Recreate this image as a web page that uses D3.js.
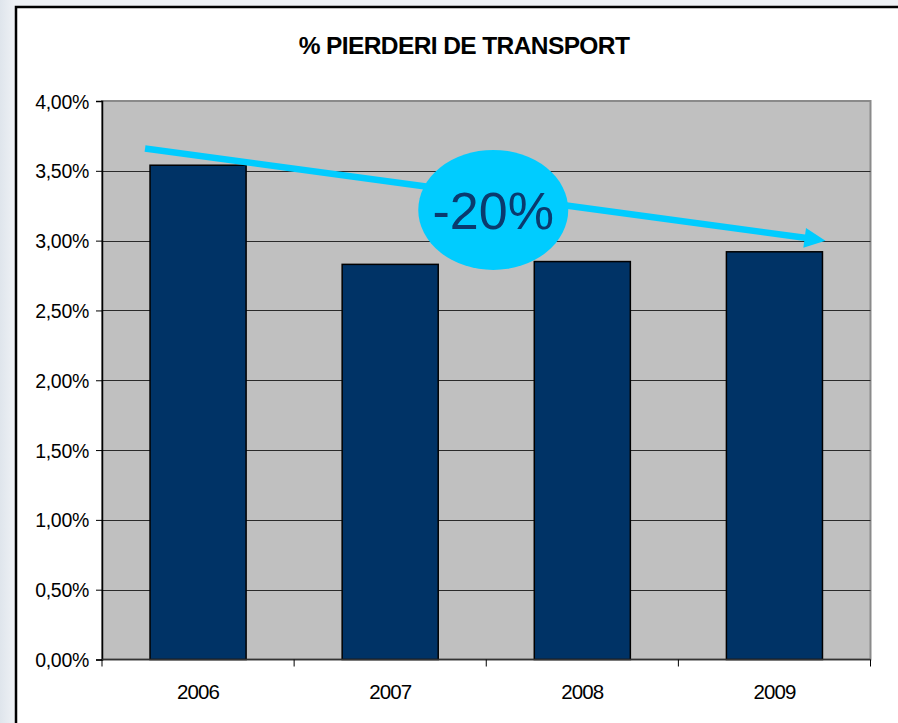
<!DOCTYPE html>
<html>
<head>
<meta charset="utf-8">
<script src="https://cdn.jsdelivr.net/npm/d3@7"></script>
<style>
  html, body { margin: 0; padding: 0; }
  body { width: 898px; height: 723px; overflow: hidden;
         background: linear-gradient(90deg, #dfe5ec 0px, #eef1f5 14px, #eef1f5 100%); }
  svg { display: block; }
</style>
</head>
<body>
<svg id="chart" width="898" height="723"></svg>
<script>
const title = "% PIERDERI DE TRANSPORT";
const years = ["2006", "2007", "2008", "2009"];
const losses = [0.0354, 0.0283, 0.0285, 0.0292];
const yTicks = [0, 0.005, 0.01, 0.015, 0.02, 0.025, 0.03, 0.035, 0.04];
const trendStart = 0.0366;   // arrow start value
const trendEnd = 0.0300;     // arrow end value
const changeLabel = "-20%";

const svg = d3.select("#chart");
const W = 898, H = 723;
const plot = { left: 102, right: 870.5, top: 101, bottom: 659.5 };

// chart box
svg.append("rect").attr("x", 16).attr("y", 7).attr("width", W + 20).attr("height", H + 20)
  .attr("fill", "#ffffff").attr("stroke", "#000").attr("stroke-width", 2.5);

const x = d3.scaleBand().domain(years).range([plot.left, plot.right])
  .paddingInner(0.5).paddingOuter(0.25);
const y = d3.scaleLinear().domain([0, 0.04]).range([plot.bottom, plot.top]);

// plot background
svg.append("rect").attr("x", plot.left).attr("y", plot.top)
  .attr("width", plot.right - plot.left).attr("height", plot.bottom - plot.top)
  .attr("fill", "#c0c0c0").attr("stroke", "#8a8a8a").attr("stroke-width", 2);

// gridlines
svg.append("g").selectAll("line").data(yTicks.filter(d => d > 0 && d < 0.04)).join("line")
  .attr("x1", plot.left).attr("x2", plot.right)
  .attr("y1", d => Math.round(y(d)) + 0.5).attr("y2", d => Math.round(y(d)) + 0.5)
  .attr("stroke", "#2a2a2a").attr("stroke-width", 1);

// bars
svg.append("g").selectAll("rect").data(years).join("rect")
  .attr("x", d => x(d)).attr("width", x.bandwidth())
  .attr("y", (d, i) => y(losses[i])).attr("height", (d, i) => y(0) - y(losses[i]))
  .attr("fill", "#003366").attr("stroke", "#000").attr("stroke-width", 1.5);

// y axis
const fmt = v => (v * 100).toFixed(2).replace(".", ",") + "%";
const yAxis = d3.axisLeft(y).tickValues(yTicks).tickFormat(fmt).tickSize(6).tickPadding(7);
const ya = svg.append("g").attr("transform", `translate(${plot.left},0)`).call(yAxis);
ya.select(".domain").attr("stroke", "#000").attr("stroke-width", 1.5);
ya.selectAll(".tick line").attr("stroke", "#000");
ya.selectAll("text").attr("font-family", "Liberation Sans, Arial, sans-serif")
  .attr("font-size", "19.5px").attr("fill", "#000").attr("letter-spacing", "-0.3px")
  .attr("dy", "0.36em");

// x axis (ticks at category boundaries)
const xa = svg.append("g").attr("transform", `translate(0,${plot.bottom})`);
xa.append("line").attr("x1", plot.left).attr("x2", plot.right).attr("y1", 0).attr("y2", 0)
  .attr("stroke", "#333").attr("stroke-width", 1.5);
const bounds = d3.range(years.length + 1).map(i => plot.left + i * x.step());
xa.selectAll("line.tk").data(bounds).join("line").attr("class", "tk")
  .attr("x1", d => d).attr("x2", d => d).attr("y1", 0).attr("y2", 7)
  .attr("stroke", "#000").attr("stroke-width", 1);
xa.selectAll("text").data(years).join("text")
  .attr("x", d => x(d) + x.bandwidth() / 2).attr("y", 39)
  .attr("text-anchor", "middle")
  .attr("font-family", "Liberation Sans, Arial, sans-serif").attr("font-size", "20.5px")
  .attr("letter-spacing", "-0.9px").attr("fill", "#000").text(d => d);

// title
svg.append("text").attr("x", 464).attr("y", 54).attr("text-anchor", "middle")
  .attr("font-family", "Liberation Sans, Arial, sans-serif").attr("font-weight", "bold")
  .attr("font-size", "24.5px").attr("letter-spacing", "-0.6px").attr("fill", "#000").text(title);

// trend arrow
const x0 = x(years[0]) - 5, y0 = y(trendStart);
const x1 = x(years[years.length - 1]) + x.bandwidth() + 3, y1 = y(trendEnd);
const ang = Math.atan2(y1 - y0, x1 - x0);
const headLen = 21, headHalf = 10;
const bx = x1 - headLen * Math.cos(ang), by = y1 - headLen * Math.sin(ang);
svg.append("line").attr("x1", x0).attr("y1", y0).attr("x2", bx + 2 * Math.cos(ang)).attr("y2", by + 2 * Math.sin(ang))
  .attr("stroke", "#00ccff").attr("stroke-width", 6.5);
svg.append("polygon").attr("points", [
  [x1, y1],
  [bx - headHalf * Math.sin(ang), by + headHalf * Math.cos(ang)],
  [bx + headHalf * Math.sin(ang), by - headHalf * Math.cos(ang)]
].map(p => p.join(",")).join(" ")).attr("fill", "#00ccff");

// ellipse label
const ex = (x(years[1]) + x(years[2]) + x.bandwidth()) / 2 + 7;
const ey = y(0.0322);
svg.append("ellipse").attr("cx", ex).attr("cy", ey).attr("rx", 75).attr("ry", 60)
  .attr("fill", "#00ccff");
svg.append("text").attr("x", ex).attr("y", ey + 19).attr("text-anchor", "middle")
  .attr("font-family", "Liberation Sans, Arial, sans-serif").attr("font-size", "52px")
  .attr("fill", "#0a3a6e").text(changeLabel);
</script>
</body>
</html>
